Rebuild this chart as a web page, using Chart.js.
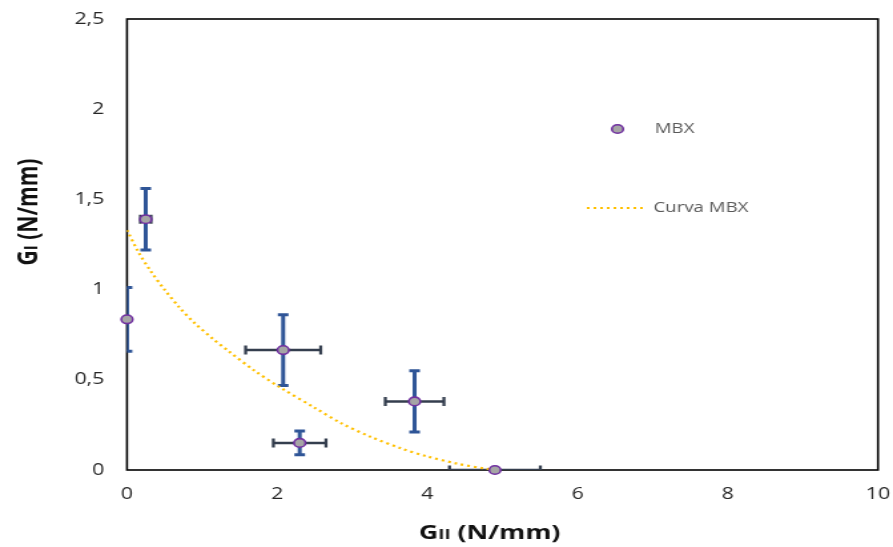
<!DOCTYPE html>
<html>
<head>
<meta charset="utf-8">
<script src="https://cdn.jsdelivr.net/npm/chart.js@4"></script>
<style>
  html, body { margin: 0; padding: 0; background: #fff; overflow: hidden; }
  /* the reference picture is stretched sideways, so the canvas is too */
  #grafico { display: block; width: 671px; height: 547px; transform: scaleX(1.33085); transform-origin: 0 0; }
</style>
</head>
<body>
<canvas id="grafico" width="671" height="547"></canvas>
<script>
// punti sperimentali MBX
const gII = [0, 0.25, 2.08, 2.3, 3.83, 4.9];
const gI = [0.835, 1.39, 0.665, 0.15, 0.38, 0.0];
const errGII = [0, 0.07, 0.5, 0.35, 0.39, 0.605];
const errGI = [0.177, 0.17, 0.196, 0.066, 0.17, 0];

// curva MBX
const curvaX = [0, 0.15, 0.32, 0.5, 0.7, 0.9, 1.15, 1.35, 1.7, 2.05, 2.5, 2.85, 3.25, 3.65, 4.0, 4.4, 4.75, 4.92];
const curvaY = [1.33, 1.21, 1.10, 1.00, 0.90, 0.815, 0.725, 0.66, 0.55, 0.455, 0.345, 0.26, 0.183, 0.12, 0.075, 0.035, 0.009, 0.0];

const xTicks = [0, 2, 4, 6, 8, 10];
const yTicks = [0, 0.5, 1, 1.5, 2, 2.5];

const FONT = "'Open Sans', 'DejaVu Sans', sans-serif";

let puntiMBX = gII.map((x, i) => ({ x: x, y: gI[i] }));
let puntiCurva = curvaX.map((x, i) => ({ x: x, y: curvaY[i] }));

// cornice + barre di errore disegnate sotto i punti
const erroriPlugin = {
    id: 'errori',
    beforeDatasetsDraw(chart) {
        const ctx = chart.ctx;
        const xs = chart.scales.x, ys = chart.scales.y;
        const a = chart.chartArea;
        ctx.save();
        ctx.strokeStyle = '#000';
        ctx.lineWidth = 1.6;
        ctx.strokeRect(a.left, a.top, a.right - a.left, a.bottom - a.top);

        ctx.beginPath();
        ctx.rect(a.left, a.top, a.right - a.left, a.bottom - a.top);
        ctx.clip();
        ctx.lineCap = 'butt';
        gII.forEach((x, i) => {
            let px = xs.getPixelForValue(x);
            let py = ys.getPixelForValue(gI[i]);
            // orizzontale
            if (errGII[i] > 0) {
                let x1 = xs.getPixelForValue(x - errGII[i]);
                let x2 = xs.getPixelForValue(x + errGII[i]);
                ctx.strokeStyle = '#343E4E';
                ctx.lineWidth = 2.6;
                ctx.beginPath();
                ctx.moveTo(x1, py); ctx.lineTo(x2, py);
                ctx.stroke();
                ctx.lineWidth = 2.3;
                ctx.beginPath();
                ctx.moveTo(x1, py - 4.5); ctx.lineTo(x1, py + 4.5);
                ctx.moveTo(x2, py - 4.5); ctx.lineTo(x2, py + 4.5);
                ctx.stroke();
            }
            // verticale
            if (errGI[i] > 0) {
                let y1 = ys.getPixelForValue(gI[i] + errGI[i]);
                let y2 = ys.getPixelForValue(gI[i] - errGI[i]);
                ctx.strokeStyle = '#2F5597';
                ctx.lineWidth = 3;
                ctx.beginPath();
                ctx.moveTo(px, y1); ctx.lineTo(px, y2);
                ctx.stroke();
                ctx.beginPath();
                ctx.moveTo(px - 4, y1); ctx.lineTo(px + 4, y1);
                ctx.moveTo(px - 4, y2); ctx.lineTo(px + 4, y2);
                ctx.stroke();
            }
        });
        ctx.restore();
    }
};

// titoli degli assi e legenda
const decoriPlugin = {
    id: 'decori',
    afterDraw(chart) {
        const ctx = chart.ctx;
        ctx.save();

        // titolo asse x: GII (N/mm)
        ctx.fillStyle = '#111';
        ctx.textBaseline = 'alphabetic';
        let parti = [['G', 20], ['II', 14], [' (N/mm)', 20]];
        let larg = 0;
        parti.forEach(p => { ctx.font = 'bold ' + p[1] + 'px ' + FONT; larg += ctx.measureText(p[0]).width; });
        let x0 = 368 - larg / 2;
        parti.forEach(p => {
            ctx.font = 'bold ' + p[1] + 'px ' + FONT;
            ctx.fillText(p[0], x0, 539);
            x0 += ctx.measureText(p[0]).width;
        });

        // titolo asse y: GI (N/mm)
        ctx.translate(28, 212);
        ctx.rotate(-Math.PI / 2);
        parti = [['G', 21], ['I', 15], [' (N/mm)', 21]];
        larg = 0;
        parti.forEach(p => { ctx.font = 'bold ' + p[1] + 'px ' + FONT; larg += ctx.measureText(p[0]).width; });
        x0 = -larg / 2;
        parti.forEach(p => {
            ctx.font = 'bold ' + p[1] + 'px ' + FONT;
            ctx.fillText(p[0], x0, 0);
            x0 += ctx.measureText(p[0]).width;
        });
        ctx.setTransform(1, 0, 0, 1, 0, 0);

        // legenda
        ctx.beginPath();
        ctx.arc(464, 129, 4.3, 0, Math.PI * 2);
        ctx.fillStyle = '#A5A5A5';
        ctx.fill();
        ctx.strokeStyle = '#7030A0';
        ctx.lineWidth = 1.6;
        ctx.stroke();

        ctx.strokeStyle = '#FFC000';
        ctx.lineWidth = 2.2;
        ctx.setLineDash([2, 3]);
        ctx.beginPath();
        ctx.moveTo(441, 208);
        ctx.lineTo(485, 208);
        ctx.stroke();
        ctx.setLineDash([]);

        ctx.fillStyle = '#595959';
        ctx.font = '14px ' + FONT;
        ctx.textBaseline = 'middle';
        ctx.fillText('MBX', 492, 129);
        ctx.fillText('Curva MBX', 491, 208);
        ctx.restore();
    }
};

let ctx = document.getElementById('grafico').getContext('2d');

new Chart(ctx, {
    type: 'scatter',
    data: {
        datasets: [{
            label: 'MBX',
            data: puntiMBX,
            pointRadius: 4.3,
            pointHoverRadius: 4.3,
            pointBackgroundColor: '#A5A5A5',
            pointBorderColor: '#7030A0',
            pointBorderWidth: 1.6,
            clip: false
        }, {
            label: 'Curva MBX',
            type: 'line',
            data: puntiCurva,
            borderColor: '#FFC000',
            borderWidth: 2.2,
            borderDash: [2, 3],
            pointRadius: 0,
            tension: 0.3,
            fill: false
        }]
    },
    options: {
        responsive: false,
        animation: false,
        devicePixelRatio: 1,
        layout: { padding: { top: 19, right: 11.3, left: 0, bottom: 0 } },
        plugins: {
            legend: { display: false },
            tooltip: { enabled: false },
            title: { display: false }
        },
        scales: {
            x: {
                type: 'linear',
                min: xTicks[0],
                max: xTicks[xTicks.length - 1],
                afterBuildTicks: s => { s.ticks = xTicks.map(v => ({ value: v })); },
                afterFit: s => { s.height = 77; s.paddingLeft = 0; s.paddingRight = 0; },
                grid: { display: false, drawTicks: false },
                border: { display: false },
                ticks: {
                    padding: 15,
                    color: '#262626',
                    font: { size: 16, family: FONT },
                    callback: v => String(v).replace('.', ',')
                }
            },
            y: {
                type: 'linear',
                min: yTicks[0],
                max: yTicks[yTicks.length - 1],
                afterBuildTicks: s => { s.ticks = yTicks.map(v => ({ value: v })); },
                afterFit: s => { s.width = 95.4; s.paddingTop = 0; s.paddingBottom = 0; },
                grid: { display: false, drawTicks: false },
                border: { display: false },
                ticks: {
                    padding: 17,
                    color: '#262626',
                    font: { size: 16, family: FONT },
                    callback: v => String(v).replace('.', ',')
                }
            }
        }
    },
    plugins: [erroriPlugin, decoriPlugin]
});
</script>
</body>
</html>
